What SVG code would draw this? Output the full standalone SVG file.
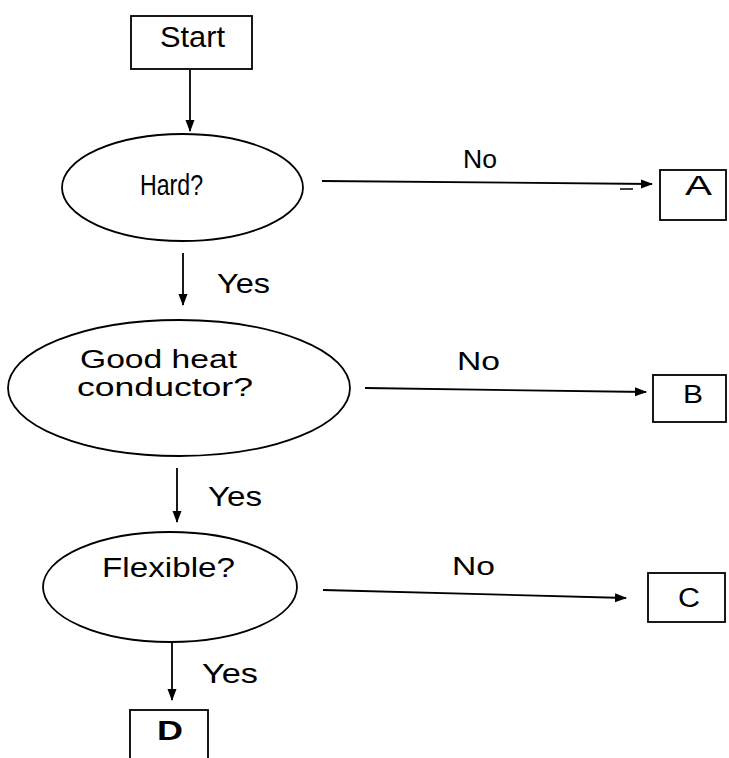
<svg xmlns="http://www.w3.org/2000/svg" width="729" height="758" viewBox="0 0 729 758">
  <defs>
    <marker id="ah" markerWidth="12" markerHeight="10" refX="11" refY="5" orient="auto" markerUnits="userSpaceOnUse">
      <path d="M0,0.5 L12,5 L0,9.5 Z" fill="#000"/>
    </marker>
  </defs>
  <style>
    .shape { fill: #fff; stroke: #000; stroke-width: 1.8; }
    .conn { stroke: #000; stroke-width: 1.8; fill: none; marker-end: url(#ah); }
    .t { font-family: "Liberation Sans", Arial, sans-serif; fill: #000; }
  </style>
  <rect width="729" height="758" fill="#fff"/>

  <g id="connectors">
    <line class="conn" x1="190" y1="70" x2="190" y2="131"/>
    <line class="conn" x1="322" y1="181" x2="652" y2="184"/>
    <line class="conn" x1="183" y1="253" x2="183" y2="305"/>
    <line class="conn" x1="365" y1="388" x2="646" y2="392"/>
    <line class="conn" x1="177" y1="468" x2="177" y2="522"/>
    <line class="conn" x1="323" y1="590" x2="626" y2="598"/>
    <line class="conn" x1="172" y1="643" x2="172" y2="700"/>
    <line x1="620" y1="189" x2="633" y2="189" stroke="#000" stroke-width="1.5"/>
    <text class="t" x="463" y="168" font-size="25" textLength="34" lengthAdjust="spacingAndGlyphs">No</text>
    <text class="t" x="457" y="370" font-size="25" textLength="43" lengthAdjust="spacingAndGlyphs">No</text>
    <text class="t" x="452" y="575" font-size="25" textLength="43" lengthAdjust="spacingAndGlyphs">No</text>
    <text class="t" x="217" y="293" font-size="28" textLength="53" lengthAdjust="spacingAndGlyphs">Yes</text>
    <text class="t" x="208" y="506" font-size="28" textLength="54" lengthAdjust="spacingAndGlyphs">Yes</text>
    <text class="t" x="202" y="683" font-size="28" textLength="56" lengthAdjust="spacingAndGlyphs">Yes</text>
  </g>

  <g id="start">
    <rect class="shape" x="131" y="16" width="121" height="53"/>
    <text class="t" x="160" y="47" font-size="29" textLength="65" lengthAdjust="spacingAndGlyphs">Start</text>
  </g>

  <g id="hard">
    <ellipse class="shape" cx="182.5" cy="187.5" rx="120.5" ry="53.5"/>
    <text class="t" x="140" y="195" font-size="29" textLength="63" lengthAdjust="spacingAndGlyphs">Hard?</text>
  </g>

  <g id="good-heat">
    <ellipse class="shape" cx="179" cy="388" rx="171" ry="68"/>
    <text class="t" x="80" y="368" font-size="26" textLength="157" lengthAdjust="spacingAndGlyphs">Good heat</text>
    <text class="t" x="77" y="396" font-size="26" textLength="176" lengthAdjust="spacingAndGlyphs">conductor?</text>
  </g>

  <g id="flexible">
    <ellipse class="shape" cx="170" cy="587" rx="127" ry="55"/>
    <text class="t" x="102" y="577" font-size="27" textLength="133" lengthAdjust="spacingAndGlyphs">Flexible?</text>
  </g>

  <g id="a">
    <rect class="shape" x="660" y="170" width="66" height="50"/>
    <text class="t" x="685" y="195" font-size="28" textLength="27" lengthAdjust="spacingAndGlyphs">A</text>
  </g>

  <g id="b">
    <rect class="shape" x="653" y="375" width="73" height="47"/>
    <text class="t" x="683" y="403" font-size="26" textLength="20" lengthAdjust="spacingAndGlyphs">B</text>
  </g>

  <g id="c">
    <rect class="shape" x="648" y="573" width="77" height="49"/>
    <text class="t" x="678" y="607" font-size="27" textLength="22" lengthAdjust="spacingAndGlyphs">C</text>
  </g>

  <g id="d">
    <rect class="shape" x="130" y="710" width="78" height="60"/>
    <text class="t" x="157" y="740" font-size="28" font-weight="bold" textLength="26" lengthAdjust="spacingAndGlyphs">D</text>
  </g>
</svg>
